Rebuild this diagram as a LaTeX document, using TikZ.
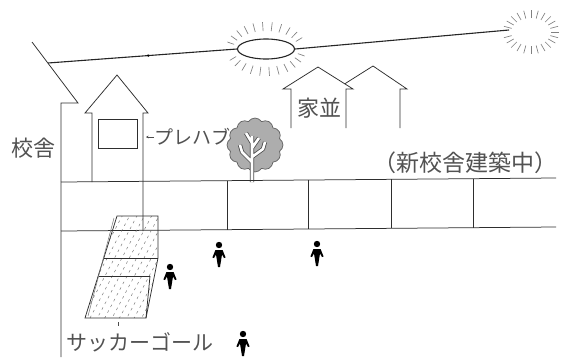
\documentclass[tikz,border=0pt]{standalone}
\usepackage{fontspec}
\newfontfamily\jp{Noto Sans CJK JP}
\usetikzlibrary{shapes.geometric,shapes.symbols,arrows.meta,calc}
\begin{document}
\begin{tikzpicture}[x=1pt,y=-1pt,
  ink/.style={draw=black!82,line width=0.75pt},
  wire/.style={draw=black!85,line width=1.1pt},
  ray/.style={draw=black!50,line width=0.65pt},
  label/.style={font=\jp\fontsize{#1}{#1}\selectfont,text=black!68,inner sep=0pt},
  label/.default=22,
  walker/.pic={
    \fill[black] (0,0) circle (3.2);
    \fill[black] (-3.6,5) -- (3.6,5) -- (6.6,12.5) -- (5,13) -- (3,9.5)
      -- (1,22) -- (-1,22) -- (-3,9.5) -- (-5,13) -- (-6.6,12.5) -- cycle;
  }]
\useasboundingbox (0,0) rectangle (566,357);
\fill[white] (0,0) rectangle (566,357);

% school building on the left
\coordinate (roofTop) at (32,42);
\coordinate (roofEnd) at (78,103);
\coordinate (eave) at (61,103);
\coordinate (wallFoot) at (61,357);
\draw[ink] (roofTop) -- (roofEnd) -- (eave) -- (wallFoot);

% suns and the overhead line
\node[draw=black!85,line width=1.1pt,ellipse,minimum width=57pt,minimum height=20pt,inner sep=0pt] (sun) at (266,49) {};
\foreach \a in {15,29,...,165,195,209,...,345}
  \draw[ray] ($(sun.center)+({33*cos(\a)},{18*sin(\a)})$) -- ($(sun.center)+({40*cos(\a)},{27*sin(\a)})$);
\coordinate (farSun) at (531,32);
\foreach \a in {0,15,...,165,195,210,...,345}
  \draw[ray] ($(farSun)+({20*cos(\a)},{14*sin(\a)})$) -- ($(farSun)+({28*cos(\a)},{22*sin(\a)})$);
\coordinate (wireStart) at (48,63);
\coordinate (wireEnd) at (509,30);
\draw[wire] (wireStart) -- (sun.west);
\draw[wire] (sun.east) -- (wireEnd);
\fill[black] ($(wireStart)!0.53!(sun.west)$) circle (1.3);

% prefab building
\draw[ink] (92,182) -- (92,113) -- (85,113) -- (117,75) -- (148,113) -- (143,113) -- (143,231);
\draw[ink] (98,119) rectangle (137,148);

% houses in the background
\draw[ink] (291,128) -- (291,89) -- (283,89) -- (318,67) -- (353,89) -- (346,89) -- (346,128);
\draw[ink] (344.8,83.8) -- (373,66) -- (407,89) -- (400,89) -- (400,128);

% tree
\node[cloud,cloud puffs=12,cloud puff arc=115,aspect=1,minimum width=56pt,minimum height=54pt,
      draw=black!62,fill=black!32,line width=0.7pt,inner sep=0pt] (crown) at (255,145) {};
\foreach \w/\c in {4.2pt/black!70,2.6pt/white}
  \draw[line width=\w,\c,line join=round]
    (252,182) -- (252,136)
    (252,162) -- (242,152) -- (240,145)
    (252,157) -- (263,149) -- (265,142)
    (252,143) -- (246,133)
    (252,148) -- (259,138);

% fence / construction site
\draw[ink] (61,182) -- (556,178);
\draw[ink] (61,231) -- (556,227);
\foreach \x in {227,308,391,473}
  \draw[ink] (\x,{182-4*(\x-61)/495}) -- (\x,{231-4*(\x-61)/495});

% soccer goal with its net
\begin{scope}
  \clip (117,216) -- (158,216) -- (158,258) -- (146,318) -- (85,318) -- cycle;
  \draw[black!55,line width=0.45pt,dash pattern=on 2.6pt off 3.9pt,dash phase=1.3pt,
        rotate around={-28:(120,268)}]
    (39,182) grid[step=6.5] (201.5,364);
\end{scope}
\draw[ink] (117,216) -- (158,216) -- (158,258) -- (146,318) -- (85,318) -- cycle;
\draw[ink] (104,258) -- (158,258);
\draw[ink] (99,276) -- (150,276);
\draw[ink] (150,276) -- (146,318);
\draw[draw=black!55,line width=0.5pt] (114,218) -- (88,316);

% players
\pic at (170,267) {walker};
\pic at (219,245) {walker};
\pic at (317,244) {walker};
\pic at (243,334) {walker};

% labels
\node[label] (kosha) at (34,148) {校舎};
\node[label=19,anchor=west] (prefabLabel) at (154,137) {プレハブ};
\coordinate (prefabPoint) at (146,137);
\draw[draw=black!70,line width=0.6pt,-{Stealth[length=2.5pt,width=2.5pt]}] (prefabLabel.west) -- (prefabPoint);
\node[label] (houses) at (319,108) {家並};
\node[label=23,anchor=east] (newSchool) at (558,163) {（新校舎建築中）};
\node[label=21,anchor=west] (goalLabel) at (66,342) {サッカーゴール};
\coordinate (goalTickTop) at (118,322);
\coordinate (goalTickEnd) at (118,326);
\draw[draw=black!70,line width=0.6pt] (goalTickTop) -- (goalTickEnd);
\end{tikzpicture}
\end{document}
